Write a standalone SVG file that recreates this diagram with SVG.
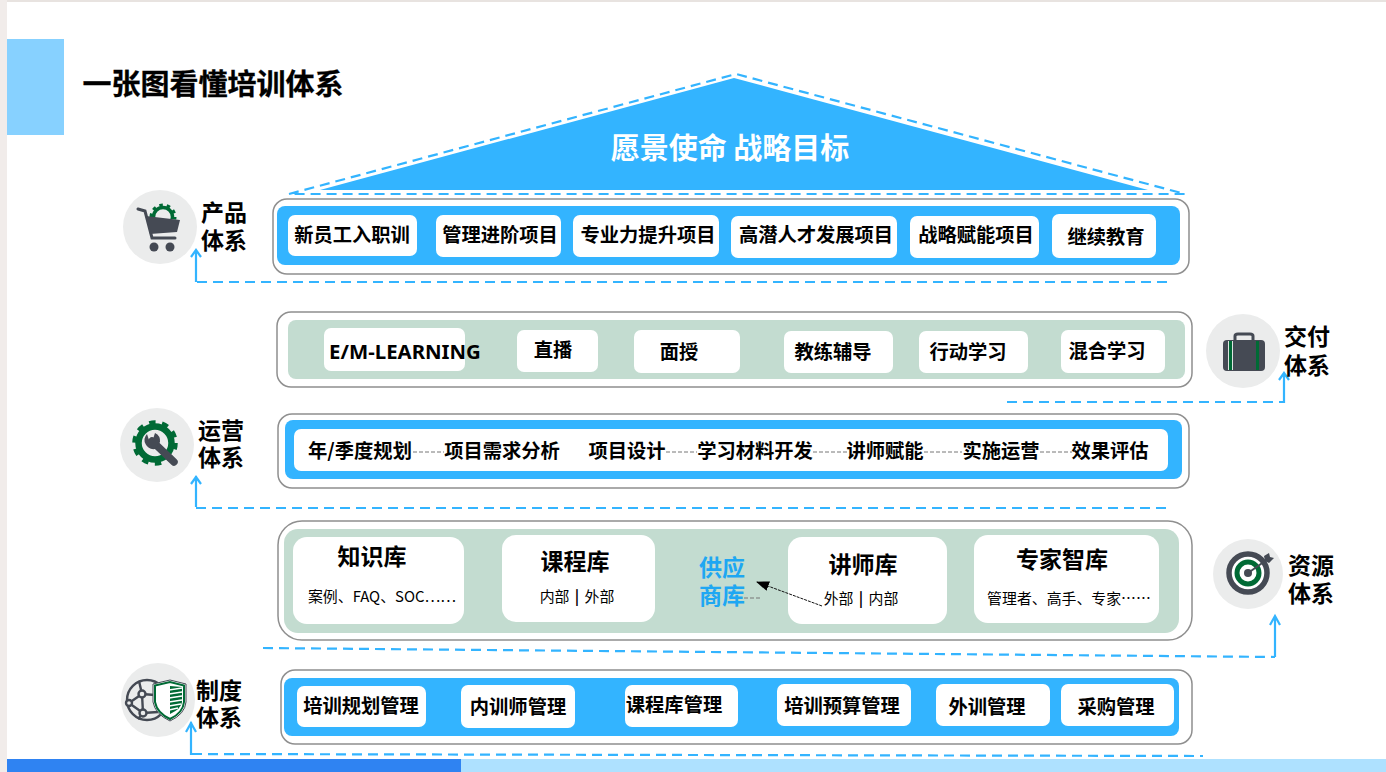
<svg xmlns="http://www.w3.org/2000/svg" width="1386" height="772" viewBox="0 0 1386 772">
<style>
text{font-family:"Noto Sans CJK SC","Liberation Sans",sans-serif;font-weight:700;fill:#000;text-anchor:middle}
.o{fill:#fff;stroke:#8f8f8f;stroke-width:1.5}
.b{fill:#33b4ff}.g{fill:#c3dcd0}.w{fill:#fff}
.t{font-size:19.3px}.h{font-size:23px}.s{font-size:14.9px;font-weight:400}.p{word-spacing:2px}
.d{fill:none;stroke:#33b4ff;stroke-width:2.2;stroke-dasharray:10 6}
.a{fill:none;stroke:#33b4ff;stroke-width:2.2}
.c{fill:#ebecec}.k{fill:#454a54}.n{fill:#006a35}
.q{fill:none;stroke:#777;stroke-width:1;stroke-dasharray:4 2}
</style>
<defs><marker id="m" markerWidth="13" markerHeight="10" refX="12" refY="5" orient="auto" markerUnits="userSpaceOnUse"><path d="M0 0L13 5L0 10Z" fill="#000"/></marker></defs>
<rect width="1386" height="772" fill="#fff"/>
<rect width="1386" height="2" fill="#e8e3e0"/><rect width="7" height="772" fill="#f1ecea"/>
<rect x="7" y="39" width="57" height="96" fill="#87d1ff"/>
<rect x="7" y="759" width="454" height="13" fill="#2f83f2"/><rect x="461" y="759" width="925" height="13" fill="#aee1ff"/>
<text x="213" y="95" style="font-size:29px;stroke:#000;stroke-width:.3">一张图看懂培训体系</text>
<g id="roof"><path d="M734 78L1148 190H320Z" class="b"/>
<path d="M289 194L736 74L1185 194H289" class="d"/>
<text x="730" y="159" style="fill:#fff;font-size:29px">愿景使命 战略目标</text></g>
<g id="product"><rect class="o" x="273" y="199" width="916" height="75" rx="14"/><rect class="b" x="277" y="206" width="903" height="59" rx="8"/>
<g id="p1"><rect class="w" x="288" y="215" width="129" height="41" rx="7"/><text class="t" x="352" y="242">新员工入职训</text></g>
<g id="p2"><rect class="w" x="436" y="215" width="125" height="42" rx="7"/><text class="t" x="500" y="242">管理进阶项目</text></g>
<g id="p3"><rect class="w" x="573" y="215" width="146" height="42" rx="7"/><text class="t" x="648" y="242">专业力提升项目</text></g>
<g id="p4"><rect class="w" x="731" y="216" width="166" height="42" rx="7"/><text class="t" x="816" y="242">高潜人才发展项目</text></g>
<g id="p5"><rect class="w" x="910" y="216" width="129" height="42" rx="7"/><text class="t" x="976" y="242">战略赋能项目</text></g>
<g id="p6"><rect class="w" x="1052" y="214" width="104" height="44" rx="7"/><text class="t" x="1106" y="244">继续教育</text></g></g>
<g id="delivery"><rect class="o" x="277" y="312" width="915" height="75" rx="14"/><rect class="g" x="288" y="320" width="897" height="59" rx="8"/>
<g><rect class="w" x="324" y="328" width="141" height="43" rx="7"/><text x="405" y="359" style="font-size:20.4px;font-family:'Noto Sans','Liberation Sans',sans-serif">E/M-LEARNING</text></g>
<g><rect class="w" x="517" y="330" width="81" height="42" rx="7"/><text class="t" x="553" y="357">直播</text></g>
<g><rect class="w" x="634" y="330" width="106" height="43" rx="7"/><text class="t" x="679" y="359">面授</text></g>
<g><rect class="w" x="784" y="331" width="109" height="42" rx="7"/><text class="t" x="833" y="359">教练辅导</text></g>
<g><rect class="w" x="919" y="331" width="109" height="42" rx="7"/><text class="t" x="968" y="359">行动学习</text></g>
<g><rect class="w" x="1061" y="330" width="104" height="43" rx="7"/><text class="t" x="1107" y="358">混合学习</text></g></g>
<g id="operation"><rect class="o" x="278" y="414" width="911" height="74" rx="14"/><rect class="b" x="285" y="420" width="897" height="59" rx="8"/><rect class="w" x="294" y="429" width="874" height="42" rx="7"/>
<path class="q" d="M413 452H444M666 452H697M813 452H847M924 452H962M1040 452H1072"/>
<text class="t" x="360" y="458">年/季度规划</text><text class="t" x="502" y="458">项目需求分析</text><text class="t" x="627" y="458">项目设计</text><text class="t" x="755" y="458">学习材料开发</text><text class="t" x="885" y="458">讲师赋能</text><text class="t" x="1001" y="458">实施运营</text><text class="t" x="1110" y="458">效果评估</text></g>
<g id="resource"><rect class="o" x="278" y="521" width="914" height="119" rx="24"/><rect class="g" x="284" y="529" width="895" height="104" rx="14"/>
<g><rect class="w" x="293" y="537" width="171" height="87" rx="14"/><text class="h" x="372" y="565">知识库</text><text class="s" x="382" y="602">案例、FAQ、SOC……</text></g>
<g><rect class="w" x="502" y="535" width="153" height="87" rx="14"/><text class="h" x="575" y="570">课程库</text><text class="s p" x="577" y="602">内部 <tspan font-weight="700">|</tspan> 外部</text></g>
<text x="722" y="576" style="fill:#1ea7f2;font-size:23px">供应<tspan x="722" dy="28">商库</tspan></text>
<g><rect class="w" x="788" y="537" width="159" height="87" rx="14"/><text class="h" x="863" y="573">讲师库</text><text class="s p" x="861" y="604">外部 <tspan font-weight="700">|</tspan> 内部</text></g>
<g><rect class="w" x="974" y="535" width="185" height="88" rx="14"/><text class="h" x="1062" y="568">专家智库</text><text class="s" x="1069" y="604">管理者、高手、专家……</text></g>
<path class="q" d="M744 598H760"/><path d="M822 606L757 582" stroke="#111" stroke-width="1" stroke-dasharray="3 1" fill="none" marker-end="url(#m)"/></g>
<g id="system"><rect class="o" x="281" y="670" width="911" height="74" rx="14"/><rect class="b" x="284" y="678" width="895" height="58" rx="8"/>
<g><rect class="w" x="297" y="686" width="129" height="41" rx="7"/><text class="t" x="361" y="713">培训规划管理</text></g>
<g><rect class="w" x="461" y="685" width="114" height="43" rx="7"/><text class="t" x="518" y="714">内训师管理</text></g>
<g><rect class="w" x="625" y="685" width="113" height="42" rx="7"/><text class="t" x="674" y="712">课程库管理</text></g>
<g><rect class="w" x="777" y="684" width="134" height="42" rx="7"/><text class="t" x="842" y="713">培训预算管理</text></g>
<g><rect class="w" x="936" y="684" width="114" height="42" rx="7"/><text class="t" x="987" y="714">外训管理</text></g>
<g><rect class="w" x="1061" y="684" width="113" height="42" rx="7"/><text class="t" x="1116" y="714">采购管理</text></g></g>
<g id="connectors">
<path class="d" d="M197 282H1172"/><path class="a" d="M196 282V250M191 257L196 250L201 257"/>
<path class="d" d="M196 508H1172"/><path class="a" d="M196 507V476M191 484L196 477L201 484"/>
<path class="d" d="M1007 402H1284"/><path class="a" d="M1284 403V373M1279 380L1284 373L1289 380"/>
<path class="d" d="M263 648L1275 657"/><path class="a" d="M1275 657V616M1270 625L1275 616L1280 625"/>
<path class="d" d="M192 754L1203 756"/><path class="a" d="M191 755V722M186 732L191 723L196 732"/>
</g>
<g id="icon-product"><circle class="c" cx="160" cy="227" r="37"/>
<circle cx="163" cy="217" r="9.5" fill="none" stroke="#006a35" stroke-width="3.5"/><circle cx="163" cy="217" r="12" fill="none" stroke="#006a35" stroke-width="3" stroke-dasharray="3.5 4"/>
<path class="c" d="M146 217L180 220V236H146Z"/>
<path d="M138 209L145 211L152 238H175" fill="none" stroke="#454a54" stroke-width="3" stroke-linecap="round"/><path class="k" d="M146 216L180 220L177 232L150 234Z"/><circle class="k" cx="154" cy="247" r="4.5"/><circle class="k" cx="170" cy="247" r="4.5"/></g>
<g id="icon-op"><circle class="c" cx="157" cy="445" r="37"/><circle cx="155" cy="443" r="16.500" fill="none" stroke="#006a35" stroke-width="6.500"/><circle cx="155" cy="443" r="20.500" fill="none" stroke="#006a35" stroke-width="4.500" stroke-dasharray="6.400 6.480"/>
<path d="M152 441L174 462" stroke="#454a54" stroke-width="7.500" stroke-linecap="round"/><path class="k" d="M147 434A9 9 0 0 0 155 449L160 442A9 9 0 0 0 155 433L153 439L149 440Z"/></g>
<g id="icon-sys"><circle class="c" cx="158" cy="700" r="37"/>
<g fill="none" stroke="#454a54" stroke-width="2.400"><circle cx="147" cy="700" r="20"/><path d="M129 703L142 694L155 695M129 703L143 713L158 712M142 694L143 713M142 694L139 681M143 713L138 719"/><circle cx="129" cy="703" r="3" fill="#ebecec"/><circle cx="142" cy="694" r="3.500" fill="#ebecec"/><circle cx="143" cy="713" r="3.500" fill="#ebecec"/></g>
<path d="M153 684L170 680L186 684V702Q185 714 170 721Q155 714 153 702Z" fill="#fff" stroke="#454a54" stroke-width="1"/>
<path d="M155 685.500L170 682L184 685.500V702Q183 713 170 719Q157 713 155 702Z" fill="#fff" stroke="#006a35" stroke-width="2"/>
<path d="M170 686L182 687V702Q181 709 170 714Z" class="n"/><path d="M169 690L182 688M169 694L182 692M169 698L182 696M169 702L182 700M169 706L181 704M169 710L178 708" stroke="#fff" stroke-width="1.500"/></g>
<g id="icon-del"><circle class="c" cx="1243" cy="351" r="37"/><rect class="k" x="1223" y="340" width="42" height="31" rx="4"/><path d="M1235 340V336Q1235 334 1238 334H1250Q1253 334 1253 336V340" fill="none" stroke="#454a54" stroke-width="3"/><rect x="1228" y="341" width="5" height="29" fill="#dfe5e2"/><rect class="n" x="1229" y="341" width="3" height="29"/><rect class="n" x="1256" y="341" width="3" height="29"/></g>
<g id="icon-res"><circle class="c" cx="1248" cy="574" r="35"/><circle class="w" cx="1248" cy="573" r="17"/><circle cx="1248" cy="573" r="19" fill="none" stroke="#454a54" stroke-width="5.500"/><circle cx="1248" cy="573" r="11" fill="none" stroke="#006a35" stroke-width="5"/><circle class="k" cx="1248" cy="573" r="4"/><path d="M1248 573L1268 559" stroke="#454a54" stroke-width="2"/><path class="k" d="M1264 556L1269 553L1270 557L1274 558L1269 563L1265 561Z"/></g>
<g id="labels"><text class="h" x="224" y="221">产品<tspan x="224" dy="28">体系</tspan></text>
<text class="h" x="221" y="439">运营<tspan x="221" dy="27">体系</tspan></text>
<text class="h" x="219" y="699">制度<tspan x="219" dy="27">体系</tspan></text>
<text class="h" x="1307" y="345">交付<tspan x="1307" dy="29">体系</tspan></text>
<text class="h" x="1311" y="574">资源<tspan x="1311" dy="28">体系</tspan></text></g>
</svg>
